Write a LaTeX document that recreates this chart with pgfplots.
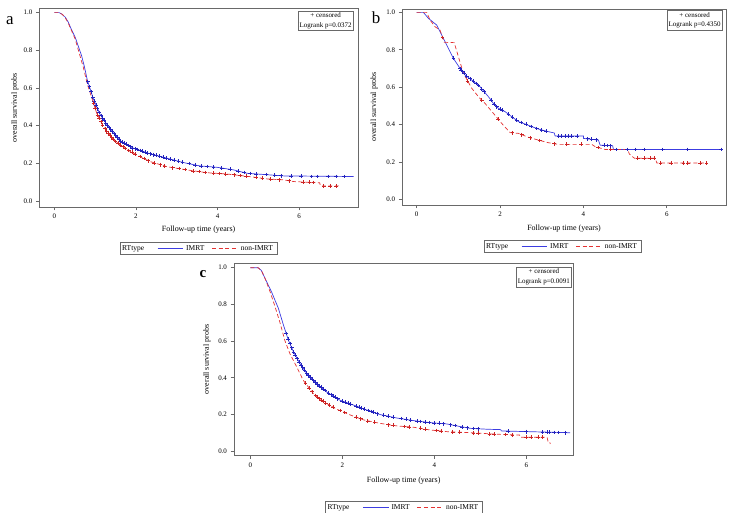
\documentclass[border=0pt]{standalone}
\usepackage{fontspec}
\setmainfont{Liberation Serif}
\usepackage{pgfplots}
\pgfplotsset{compat=1.18}
\definecolor{imrt}{RGB}{60,60,225}
\definecolor{imrtd}{RGB}{35,35,190}
\definecolor{nonimrt}{RGB}{228,50,50}
\definecolor{nonimrtd}{RGB}{205,35,35}
\definecolor{frame}{RGB}{105,105,105}
\tikzset{
  inset/.style={draw=frame, line width=0.7bp, fill=white, font=\fontsize{7}{9.5}\selectfont, align=center, inner xsep=1.5bp, inner ysep=2bp, anchor=north east},
  legtext/.style={anchor=west, inner sep=0pt, font=\fontsize{7.5}{8}\selectfont},
}
\newcommand\kmleg[2]{%
  \draw[draw=frame, line width=0.6bp, fill=white] (#1-78.5,#2-6) rectangle (#1+78.5,#2+6);
  \node[legtext] at (#1-76.5,#2) {RTtype};
  \draw[draw=imrt, line width=1bp] (#1-40.8,#2) -- (#1-15.2,#2);
  \node[legtext] at (#1-12.5,#2) {IMRT};
  \draw[draw=nonimrt, line width=1bp, dash pattern=on 4bp off 2.6bp] (#1+13.5,#2) -- (#1+38.5,#2);
  \node[legtext] at (#1+42.2,#2) {non-IMRT};
}
\pgfplotsset{
  km/.style={
    scale only axis,
    axis line style={draw=frame, line width=0.9bp},
    every tick/.style={draw=frame, line width=0.7bp},
    tick align=outside,
    major tick length=3.5bp,
    tick pos=left,
    xtick={0,2,4,6},
    ytick={0,0.2,0.4,0.6,0.8,1},
    /pgf/number format/assume math mode=true,
    yticklabel={\pgfmathprintnumber[fixed,fixed zerofill,precision=1]{\tick}},
    ticklabel style={font=\fontsize{7}{8}\selectfont},
    xlabel={Follow-up time (years)},
    ylabel={overall survival probs},
    label style={font=\fontsize{8}{9}\selectfont},
    ylabel style={anchor=center},
    xlabel style={anchor=center},
  },
  imrtline/.style={color=imrt, line width=0.7bp, solid, mark=none},
  nonline/.style={color=nonimrt, line width=0.7bp, dash pattern=on 4bp off 2.5bp, mark=none},
  imrtcens/.style={only marks, mark=+, mark size=1.9bp, color=imrtd, mark options={line width=0.6bp}},
  noncens/.style={only marks, mark=+, mark size=1.9bp, color=nonimrtd, mark options={line width=0.6bp, solid}},
}
\begin{document}
\begin{tikzpicture}[x=1bp,y=1bp]
\path[use as bounding box] (0,0) rectangle (735,513);

% ---------------- panel a ----------------
\begin{axis}[km, at={(39.3bp,306bp)}, anchor=south west,
  width=318.7bp, height=198.5bp,
  xmin=-0.368, xmax=7.44, ymin=-0.032, ymax=1.022,
  xlabel style={at={(axis description cs:0.5,-0.116)}},
  ylabel style={at={(axis description cs:-0.076,0.5)}}]
\addplot[imrtline] coordinates {(0,1)(0.12,1)(0.20,0.99)(0.27,0.975)(0.34,0.95)(0.42,0.91)(0.51,0.87)(0.59,0.82)(0.67,0.77)(0.74,0.71)(0.81,0.64)(0.96,0.54)(1.12,0.46)(1.37,0.38)(1.61,0.32)(1.94,0.28)(2.35,0.25)(2.76,0.227)(3.16,0.204)(3.57,0.186)(3.98,0.179)(4.39,0.165)(4.72,0.147)(5.04,0.142)(5.62,0.133)(7.33,0.13)};
\addplot[nonline] coordinates {(0,1)(0.12,1)(0.20,0.99)(0.27,0.972)(0.34,0.945)(0.42,0.905)(0.51,0.86)(0.61,0.785)(0.71,0.71)(0.81,0.62)(1.04,0.465)(1.2,0.395)(1.45,0.324)(1.77,0.274)(2.02,0.244)(2.35,0.209)(2.76,0.182)(3.25,0.165)(3.74,0.150)(4.23,0.143)(4.8,0.129)(5.21,0.117)(5.62,0.112)(5.86,0.103)(6.44,0.097)(6.5,0.097)(6.52,0.08)(7.0,0.08)};
\addplot[imrtcens] coordinates {(0.82,0.633)(0.86,0.607)(0.90,0.58)(0.94,0.553)(0.98,0.53)(1.02,0.51)(1.06,0.49)(1.10,0.47)(1.14,0.454)(1.18,0.441)(1.22,0.428)(1.26,0.415)(1.30,0.402)(1.34,0.39)(1.38,0.378)(1.42,0.368)(1.46,0.358)(1.50,0.348)(1.54,0.338)(1.58,0.328)(1.62,0.319)(1.67,0.313)(1.72,0.307)(1.77,0.301)(1.82,0.295)(1.87,0.288)(1.92,0.282)(1.98,0.277)(2.04,0.273)(2.10,0.268)(2.16,0.264)(2.22,0.259)(2.28,0.255)(2.34,0.251)(2.42,0.246)(2.50,0.242)(2.58,0.237)(2.66,0.233)(2.74,0.228)(2.84,0.222)(2.94,0.217)(3.04,0.211)(3.14,0.205)(3.3,0.199)(3.45,0.192)(3.6,0.186)(3.75,0.183)(3.9,0.18)(4.1,0.175)(4.3,0.168)(4.5,0.159)(4.65,0.151)(4.8,0.146)(4.95,0.143)(5.2,0.14)(5.4,0.136)(5.55,0.134)(5.8,0.132)(6.05,0.131)(6.3,0.13)(6.45,0.13)(6.7,0.13)(6.9,0.13)(7.1,0.13)};
\addplot[noncens] coordinates {(0.96,0.519)(1.0,0.492)(1.06,0.456)(1.10,0.439)(1.14,0.421)(1.18,0.404)(1.24,0.384)(1.28,0.372)(1.32,0.361)(1.36,0.35)(1.40,0.338)(1.44,0.327)(1.50,0.316)(1.56,0.307)(1.62,0.297)(1.68,0.288)(1.74,0.279)(1.82,0.268)(1.90,0.258)(1.98,0.249)(2.1,0.236)(2.2,0.225)(2.3,0.214)(2.45,0.202)(2.6,0.193)(2.7,0.186)(2.9,0.177)(3.05,0.172)(3.2,0.167)(3.4,0.16)(3.55,0.156)(3.7,0.151)(3.9,0.148)(4.05,0.146)(4.2,0.143)(4.4,0.139)(4.55,0.135)(4.7,0.131)(4.95,0.125)(5.1,0.12)(5.3,0.116)(5.5,0.113)(5.75,0.108)(6.1,0.1)(6.25,0.099)(6.35,0.098)(6.6,0.08)(6.75,0.08)(6.9,0.08)};
\node[inset] at (rel axis cs:1,1) [xshift=-4.5bp, yshift=-2.2bp] {+ censored\\Logrank p=0.0372};
\end{axis}

% ---------------- panel b ----------------
\begin{axis}[km, at={(402bp,308bp)}, anchor=south west,
  width=324bp, height=196bp,
  xmin=-0.353, xmax=7.42, ymin=-0.030, ymax=1.018,
  xlabel style={at={(axis description cs:0.5,-0.122)}},
  ylabel style={at={(axis description cs:-0.086,0.5)}}]
\addplot[imrtline] coordinates {(0,1)(0.16,1)(0.28,0.968)(0.48,0.932)(0.68,0.843)(0.88,0.754)(1.04,0.70)(1.16,0.665)(1.32,0.638)(1.52,0.602)(1.72,0.549)(1.84,0.513)(1.96,0.487)(2.12,0.469)(2.28,0.442)(2.44,0.416)(2.6,0.403)(2.76,0.389)(2.92,0.376)(3.16,0.362)(3.30,0.355)(3.32,0.339)(4.0,0.339)(4.0,0.326)(4.36,0.317)(4.40,0.29)(4.70,0.287)(4.72,0.267)(7.32,0.267)};
\addplot[nonline] coordinates {(0,1)(0.24,1)(0.32,0.959)(0.44,0.923)(0.56,0.905)(0.66,0.84)(0.90,0.838)(1.0,0.763)(1.12,0.674)(1.32,0.594)(1.48,0.549)(1.64,0.513)(1.84,0.46)(2.04,0.406)(2.24,0.357)(2.44,0.353)(2.68,0.332)(2.92,0.317)(3.16,0.303)(3.4,0.294)(4.2,0.294)(4.28,0.282)(4.52,0.267)(5.06,0.267)(5.1,0.243)(5.22,0.22)(5.72,0.22)(5.76,0.195)(6.96,0.195)};
\addplot[imrtcens] coordinates {(0.88,0.754)(1.04,0.70)(1.07,0.692)(1.10,0.683)(1.13,0.674)(1.20,0.658)(1.28,0.645)(1.36,0.631)(1.42,0.62)(1.48,0.609)(1.56,0.591)(1.62,0.576)(1.78,0.531)(1.86,0.509)(1.92,0.496)(2.0,0.483)(2.06,0.476)(2.2,0.455)(2.3,0.439)(2.4,0.423)(2.5,0.411)(2.62,0.401)(2.75,0.39)(2.88,0.379)(3.0,0.371)(3.1,0.365)(3.4,0.339)(3.48,0.339)(3.56,0.339)(3.64,0.339)(3.72,0.339)(3.85,0.339)(4.1,0.324)(4.2,0.321)(4.3,0.319)(4.5,0.289)(4.58,0.288)(4.65,0.287)(4.78,0.267)(5.05,0.267)(5.25,0.267)(5.45,0.267)(5.9,0.267)(6.5,0.267)(7.3,0.267)};
\addplot[noncens] coordinates {(0.62,0.866)(1.22,0.634)(1.56,0.531)(1.95,0.43)(2.3,0.356)(2.52,0.346)(2.72,0.33)(2.95,0.315)(3.3,0.298)(3.6,0.294)(3.95,0.294)(4.35,0.277)(4.65,0.267)(5.3,0.22)(5.45,0.22)(5.6,0.22)(5.7,0.22)(5.85,0.195)(6.1,0.195)(6.4,0.195)(6.5,0.195)(6.8,0.195)(6.95,0.195)};
\node[inset] at (rel axis cs:1,1) [xshift=-3.5bp, yshift=-1.3bp] {+ censored\\Logrank p=0.4350};
\end{axis}

% ---------------- panel c ----------------
\begin{axis}[km, at={(234bp,57.5bp)}, anchor=south west,
  width=339.3bp, height=192.2bp,
  xmin=-0.354, xmax=7.02, ymin=-0.023, ymax=1.024,
  xlabel style={at={(axis description cs:0.5,-0.133)}},
  ylabel style={at={(axis description cs:-0.08,0.5)}}]
\addplot[imrtline] coordinates {(0,1)(0.17,1)(0.24,0.985)(0.32,0.942)(0.46,0.869)(0.61,0.779)(0.72,0.688)(0.83,0.604)(0.94,0.541)(1.08,0.477)(1.23,0.423)(1.44,0.368)(1.66,0.323)(1.95,0.278)(2.24,0.252)(2.53,0.225)(2.82,0.2)(3.19,0.181)(3.55,0.167)(3.91,0.156)(4.27,0.149)(4.49,0.138)(4.78,0.125)(5.15,0.12)(5.44,0.118)(5.46,0.111)(5.73,0.109)(6.95,0.101)};
\addplot[nonline] coordinates {(0,1)(0.17,1)(0.24,0.985)(0.32,0.942)(0.43,0.869)(0.54,0.786)(0.65,0.697)(0.75,0.604)(0.86,0.532)(1.01,0.459)(1.15,0.387)(1.37,0.314)(1.59,0.27)(1.88,0.229)(2.17,0.198)(2.46,0.171)(2.82,0.152)(3.19,0.138)(3.55,0.131)(3.91,0.116)(4.27,0.107)(4.71,0.102)(5.0,0.098)(5.36,0.093)(5.73,0.089)(5.85,0.089)(5.87,0.076)(6.45,0.076)(6.47,0.055)(6.5,0.055)(6.52,0.04)};
\addplot[imrtcens] coordinates {(0.78,0.642)(0.82,0.612)(0.86,0.587)(0.90,0.564)(0.94,0.541)(0.98,0.523)(1.02,0.504)(1.06,0.486)(1.10,0.47)(1.14,0.455)(1.18,0.441)(1.22,0.427)(1.26,0.415)(1.30,0.405)(1.34,0.394)(1.38,0.384)(1.42,0.373)(1.46,0.364)(1.50,0.356)(1.54,0.348)(1.58,0.339)(1.62,0.331)(1.70,0.317)(1.75,0.309)(1.80,0.301)(1.85,0.294)(1.90,0.286)(2.0,0.274)(2.06,0.268)(2.12,0.263)(2.18,0.257)(2.30,0.246)(2.36,0.241)(2.42,0.235)(2.48,0.23)(2.56,0.222)(2.62,0.217)(2.68,0.212)(2.76,0.205)(2.9,0.196)(3.0,0.191)(3.1,0.186)(3.28,0.178)(3.38,0.174)(3.48,0.17)(3.62,0.165)(3.7,0.162)(3.8,0.159)(3.88,0.157)(4.0,0.154)(4.1,0.152)(4.2,0.15)(4.35,0.145)(4.45,0.14)(4.6,0.133)(4.72,0.128)(4.85,0.124)(4.95,0.123)(5.6,0.11)(6.0,0.107)(6.35,0.104)(6.45,0.103)(6.5,0.103)(6.6,0.102)(6.7,0.102)(6.85,0.101)};
\addplot[noncens] coordinates {(1.2,0.37)(1.28,0.344)(1.34,0.324)(1.42,0.304)(1.46,0.296)(1.50,0.288)(1.54,0.28)(1.58,0.272)(1.64,0.263)(1.72,0.252)(1.8,0.24)(1.95,0.222)(2.05,0.211)(2.3,0.186)(2.4,0.177)(2.55,0.166)(2.7,0.158)(3.0,0.145)(3.1,0.141)(3.35,0.135)(3.45,0.133)(3.7,0.125)(3.8,0.121)(4.05,0.113)(4.15,0.11)(4.4,0.106)(4.55,0.104)(4.85,0.1)(4.95,0.099)(5.2,0.095)(5.3,0.094)(5.55,0.091)(5.7,0.089)(6.0,0.076)(6.1,0.076)(6.25,0.076)(6.35,0.076)};
\node[inset] at (rel axis cs:1,1) [xshift=-1.6bp, yshift=-3.4bp] {+ censored\\Logrank p=0.0091};
\end{axis}

% legends
\kmleg{198.5}{264.5}
\kmleg{562.5}{266.5}
\kmleg{403.8}{5.5}

% panel letters
\node[anchor=base, font=\fontsize{17}{17}\selectfont] at (10,488) {a};
\node[anchor=base, font=\fontsize{17}{17}\selectfont] at (376,489.7) {b};
\node[anchor=base, font=\fontsize{15}{15}\selectfont\bfseries] at (203,235.7) {c};
\end{tikzpicture}
\end{document}
